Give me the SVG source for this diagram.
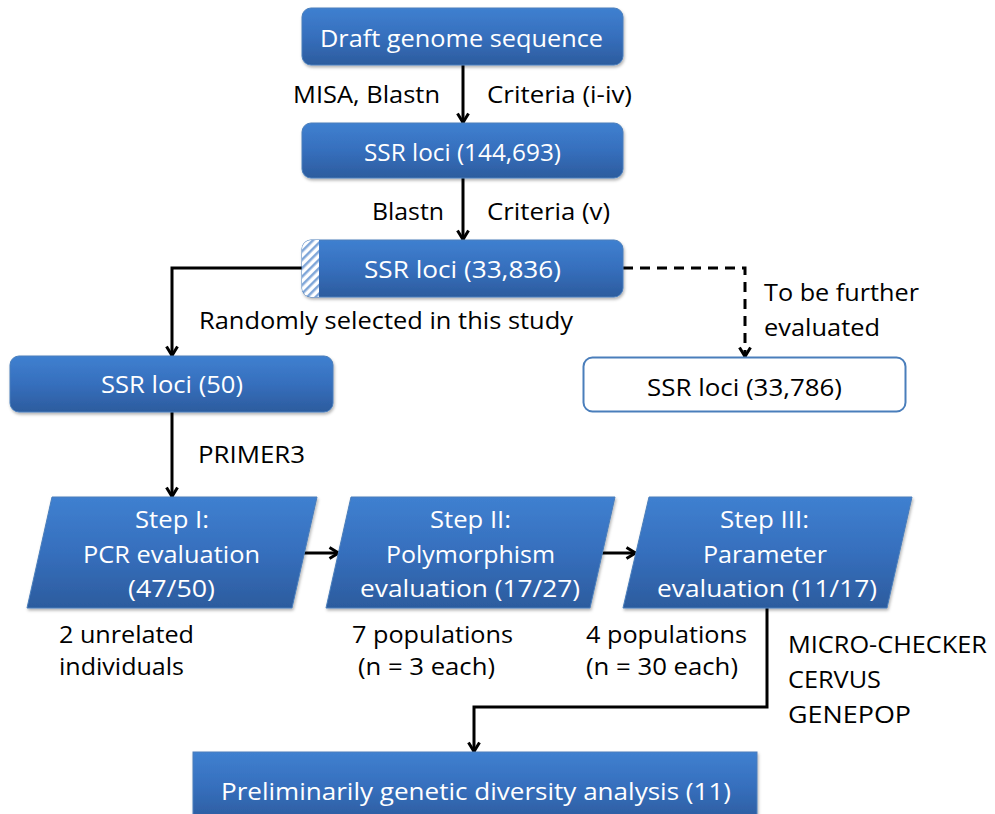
<svg xmlns="http://www.w3.org/2000/svg" width="995" height="814" viewBox="0 0 995 814">
<defs>
<linearGradient id="blue" x1="0" y1="0" x2="0" y2="1">
<stop offset="0" stop-color="#3f80d0"/>
<stop offset="0.5" stop-color="#366fbd"/>
<stop offset="1" stop-color="#2c5c9e"/>
</linearGradient>
<pattern id="hatch" width="6" height="6" patternUnits="userSpaceOnUse" patternTransform="rotate(45)">
<rect width="6" height="6" fill="#ffffff"/>
<rect width="2.5" height="6" fill="#7fa6d8"/>
</pattern>
<filter id="sh" x="-5%" y="-10%" width="110%" height="130%">
<feDropShadow dx="1" dy="2" stdDeviation="1.5" flood-color="#000" flood-opacity="0.3"/>
</filter>
<clipPath id="b3clip"><rect x="302" y="240" width="321" height="57" rx="9"/></clipPath>
<marker id="arr" viewBox="0 0 14 14" refX="12" refY="7" markerWidth="14" markerHeight="14" markerUnits="userSpaceOnUse" orient="auto">
<path d="M2.5,1.5 L11.5,7 L2.5,12.5" fill="none" stroke="#000" stroke-width="3" stroke-linejoin="miter"/>
</marker>
</defs>
<style>
text{font-family:"Open Sans","Liberation Sans",sans-serif;font-size:23.5px}
.w{fill:#ffffff}
.k{fill:#000000}
.box{fill:url(#blue);stroke:#4a7ebb;stroke-width:1;filter:url(#sh)}
.conn{fill:none;stroke:#000;stroke-width:3}
</style>
<rect width="995" height="814" fill="#ffffff"/>

<g id="connectors">
<path class="conn" d="M463,65 L463,123" marker-end="url(#arr)"/>
<path class="conn" d="M463,178 L463,240" marker-end="url(#arr)"/>
<path class="conn" d="M302,268 L172,268 L172,356" marker-end="url(#arr)"/>
<path class="conn" d="M623,268 L745,268 L745,357" stroke-dasharray="10,7" marker-end="url(#arr)"/>
<path class="conn" d="M172,412 L172,497" marker-end="url(#arr)"/>
<path class="conn" d="M303,553 L339,553" marker-end="url(#arr)"/>
<path class="conn" d="M602,553 L636,553" marker-end="url(#arr)"/>
<path class="conn" d="M767,608 L767,707 L474,707 L474,752" marker-end="url(#arr)"/>
</g>

<g id="labels">
<text class="k" x="293" y="103" textLength="147" lengthAdjust="spacingAndGlyphs">MISA, Blastn</text>
<text class="k" x="487" y="103" textLength="145" lengthAdjust="spacingAndGlyphs">Criteria (i-iv)</text>
<text class="k" x="372" y="220" textLength="72" lengthAdjust="spacingAndGlyphs">Blastn</text>
<text class="k" x="487" y="220" textLength="123" lengthAdjust="spacingAndGlyphs">Criteria (v)</text>
<text class="k" x="199" y="329" textLength="374" lengthAdjust="spacingAndGlyphs">Randomly selected in this study</text>
<text class="k" x="764" y="301" textLength="155" lengthAdjust="spacingAndGlyphs">To be further</text>
<text class="k" x="764" y="336" textLength="116" lengthAdjust="spacingAndGlyphs">evaluated</text>
<text class="k" x="198" y="463" textLength="107" lengthAdjust="spacingAndGlyphs">PRIMER3</text>
<text class="k" x="59" y="643" textLength="135" lengthAdjust="spacingAndGlyphs">2 unrelated</text>
<text class="k" x="59" y="675" textLength="125" lengthAdjust="spacingAndGlyphs">individuals</text>
<text class="k" x="352" y="643" textLength="161" lengthAdjust="spacingAndGlyphs">7 populations</text>
<text class="k" x="358" y="675" textLength="137" lengthAdjust="spacingAndGlyphs">(n = 3 each)</text>
<text class="k" x="586" y="643" textLength="161" lengthAdjust="spacingAndGlyphs">4 populations</text>
<text class="k" x="586" y="675" textLength="152" lengthAdjust="spacingAndGlyphs">(n = 30 each)</text>
<text class="k" x="788" y="653" textLength="199" lengthAdjust="spacingAndGlyphs">MICRO-CHECKER</text>
<text class="k" x="788" y="688" textLength="93" lengthAdjust="spacingAndGlyphs">CERVUS</text>
<text class="k" x="788" y="723" textLength="123" lengthAdjust="spacingAndGlyphs">GENEPOP</text>
</g>

<g id="n1">
<rect class="box" x="302" y="8" width="321" height="57" rx="9"/>
<text class="w" x="320" y="47" textLength="283" lengthAdjust="spacingAndGlyphs">Draft genome sequence</text>
</g>
<g id="n2">
<rect class="box" x="302" y="123" width="321" height="55" rx="9"/>
<text class="w" x="364" y="161" textLength="197" lengthAdjust="spacingAndGlyphs">SSR loci (144,693)</text>
</g>
<g id="n3">
<rect class="box" x="302" y="240" width="321" height="57" rx="9"/>
<rect x="302" y="240" width="17" height="57" fill="url(#hatch)" clip-path="url(#b3clip)"/>
<text class="w" x="364" y="278" textLength="197" lengthAdjust="spacingAndGlyphs">SSR loci (33,836)</text>
</g>
<g id="n4">
<rect class="box" x="10" y="356" width="323" height="56" rx="9"/>
<text class="w" x="101" y="393" textLength="142" lengthAdjust="spacingAndGlyphs">SSR loci (50)</text>
</g>
<g id="n5">
<rect x="583.5" y="357.5" width="322" height="54" rx="9" fill="#ffffff" stroke="#4a7ebb" stroke-width="2"/>
<text class="k" x="647" y="396" textLength="195" lengthAdjust="spacingAndGlyphs">SSR loci (33,786)</text>
</g>
<g id="n6">
<polygon class="box" points="52,497 317,497 292,608 27,608"/>
<text class="w" x="135" y="528" textLength="74" lengthAdjust="spacingAndGlyphs">Step I:</text>
<text class="w" x="83" y="563" textLength="177" lengthAdjust="spacingAndGlyphs">PCR evaluation</text>
<text class="w" x="128" y="597" textLength="87" lengthAdjust="spacingAndGlyphs">(47/50)</text>
</g>
<g id="n7">
<polygon class="box" points="351,497 615,497 590,608 326,608"/>
<text class="w" x="430" y="528" textLength="81" lengthAdjust="spacingAndGlyphs">Step II:</text>
<text class="w" x="386" y="563" textLength="169" lengthAdjust="spacingAndGlyphs">Polymorphism</text>
<text class="w" x="360" y="597" textLength="220" lengthAdjust="spacingAndGlyphs">evaluation (17/27)</text>
</g>
<g id="n8">
<polygon class="box" points="649,497 912,497 887,608 623,608"/>
<text class="w" x="720" y="528" textLength="89" lengthAdjust="spacingAndGlyphs">Step III:</text>
<text class="w" x="703" y="563" textLength="124" lengthAdjust="spacingAndGlyphs">Parameter</text>
<text class="w" x="657" y="597" textLength="220" lengthAdjust="spacingAndGlyphs">evaluation (11/17)</text>
</g>
<g id="n9">
<rect class="box" x="193" y="752" width="564" height="70" rx="0"/>
<text class="w" x="221" y="800" textLength="510" lengthAdjust="spacingAndGlyphs">Preliminarily genetic diversity analysis (11)</text>
</g>
</svg>
